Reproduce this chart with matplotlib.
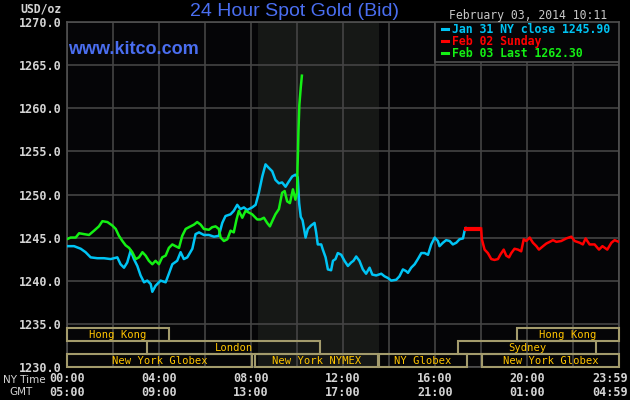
import numpy as np
import matplotlib
matplotlib.use("Agg")
import matplotlib.pyplot as plt
from matplotlib.patches import Rectangle
import matplotlib.transforms as mtransforms

# ---------------- data ----------------
jan31_hours = [0, 0.32, 0.61, 0.82, 1.04, 1.33, 1.62, 1.91, 2.2, 2.34, 2.49, 2.63, 2.78, 2.92,
               3.07, 3.21, 3.36, 3.5, 3.65, 3.72, 3.86, 4.08, 4.3, 4.44, 4.59, 4.8, 4.95, 5.09,
               5.24, 5.46, 5.6, 5.75, 5.96, 6.18, 6.4, 6.61, 6.76, 6.9, 7.12, 7.26, 7.41, 7.55,
               7.7, 7.84, 8.06, 8.21, 8.35, 8.5, 8.64, 8.78, 8.93, 9.07, 9.22, 9.36, 9.51, 9.65,
               9.8, 9.94, 10.04, 10.1, 10.17, 10.25, 10.38, 10.48, 10.62, 10.77, 10.84, 10.91,
               11.06, 11.13, 11.25, 11.35, 11.49, 11.57, 11.68, 11.78, 11.93, 12.07, 12.22,
               12.36, 12.46, 12.58, 12.72, 12.87, 13.01, 13.16, 13.28, 13.45, 13.67, 13.81,
               13.96, 14.1, 14.32, 14.46, 14.61, 14.75, 14.83, 14.97, 15.12, 15.26, 15.41,
               15.55, 15.7, 15.84, 15.99, 16.13, 16.2, 16.35, 16.49, 16.64, 16.78, 16.93,
               17.07, 17.22, 17.29, 17.36]
jan31_price = [1244.0, 1244.0, 1243.7, 1243.3, 1242.7, 1242.6, 1242.6, 1242.5, 1242.7, 1241.9,
               1241.5, 1242.1, 1243.5, 1242.5, 1241.7, 1240.6, 1239.8, 1240.0, 1239.6, 1238.7,
               1239.4, 1240.0, 1239.8, 1240.8, 1241.9, 1242.3, 1243.3, 1242.5, 1242.7, 1243.7,
               1245.4, 1245.6, 1245.3, 1245.3, 1245.1, 1245.2, 1246.7, 1247.5, 1247.7, 1248.1,
               1248.8, 1248.3, 1248.5, 1248.2, 1248.5, 1248.8, 1250.2, 1252.1, 1253.5, 1253.1,
               1252.7, 1251.7, 1251.3, 1251.4, 1250.9, 1251.5, 1252.1, 1252.3, 1252.0, 1249.0,
               1247.4, 1247.0, 1245.0, 1246.0, 1246.4, 1246.7, 1245.6, 1244.2, 1244.2, 1243.6,
               1242.7, 1241.3, 1241.2, 1242.3, 1242.5, 1243.2, 1243.0, 1242.3, 1241.7, 1242.1,
               1242.3, 1242.8, 1242.3, 1241.3, 1240.8, 1241.5, 1240.7, 1240.6, 1240.8, 1240.5,
               1240.3, 1240.0, 1240.1, 1240.5, 1241.3, 1241.1, 1240.9, 1241.5, 1241.9, 1242.5,
               1243.2, 1243.2, 1243.0, 1244.2, 1245.0, 1244.6, 1244.0, 1244.4, 1244.7, 1244.6,
               1244.2, 1244.4, 1244.8, 1244.9, 1245.8, 1246.1]

feb02_hours = [17.26, 18.01, 18.04, 18.16, 18.3, 18.45, 18.59, 18.74, 18.84, 18.99, 19.1, 19.22,
               19.32, 19.46, 19.61, 19.75, 19.86, 19.97, 20.12, 20.26, 20.41, 20.52, 20.7, 20.84,
               20.99, 21.13, 21.28, 21.49, 21.71, 21.93, 22.07, 22.29, 22.43, 22.55, 22.72,
               22.94, 23.13, 23.28, 23.49, 23.67, 23.81, 23.99]
feb02_price = [1246.05, 1246.05, 1244.8, 1243.6, 1243.2, 1242.5, 1242.4, 1242.5, 1243.0, 1243.6,
               1242.9, 1242.7, 1243.2, 1243.7, 1243.6, 1243.4, 1244.8, 1244.6, 1245.0, 1244.4,
               1244.0, 1243.6, 1244.0, 1244.3, 1244.5, 1244.7, 1244.5, 1244.6, 1244.9, 1245.1,
               1244.6, 1244.4, 1244.2, 1244.9, 1244.2, 1244.2, 1243.6, 1244.0, 1243.6, 1244.4,
               1244.7, 1244.5]

feb03_hours = [0, 0.17, 0.39, 0.54, 0.75, 0.97, 1.19, 1.40, 1.55, 1.77, 1.98, 2.13, 2.27, 2.42,
               2.56, 2.71, 2.85, 3.0, 3.14, 3.29, 3.43, 3.57, 3.72, 3.86, 4.01, 4.15, 4.3, 4.44,
               4.59, 4.73, 4.88, 5.02, 5.17, 5.31, 5.53, 5.67, 5.82, 5.96, 6.18, 6.32, 6.47,
               6.61, 6.69, 6.83, 6.98, 7.12, 7.26, 7.38, 7.48, 7.63, 7.77, 7.92, 8.06, 8.28,
               8.42, 8.57, 8.71, 8.83, 8.93, 9.07, 9.22, 9.36, 9.47, 9.58, 9.7, 9.83, 9.94,
               10.01, 10.03, 10.05, 10.07, 10.11, 10.17, 10.22]
feb03_price = [1244.8, 1245.0, 1245.0, 1245.5, 1245.4, 1245.3, 1245.8, 1246.3, 1246.9, 1246.8,
               1246.4, 1246.0, 1245.2, 1244.6, 1244.1, 1243.8, 1243.3, 1242.5, 1242.7, 1243.3,
               1242.9, 1242.3, 1241.9, 1242.3, 1241.9, 1242.7, 1242.9, 1243.8, 1244.2, 1244.0,
               1243.8, 1245.2, 1246.0, 1246.2, 1246.5, 1246.8, 1246.5, 1246.0, 1245.9, 1246.2,
               1246.3, 1246.0, 1245.0, 1244.6, 1244.8, 1245.8, 1245.6, 1247.1, 1248.1, 1247.3,
               1248.1, 1247.9, 1247.7, 1247.1, 1247.1, 1247.3, 1246.7, 1246.3, 1246.9, 1247.7,
               1248.3, 1250.2, 1250.4, 1249.2, 1249.0, 1250.6, 1249.4, 1250.2, 1253.2, 1255.0,
               1257.3, 1260.4, 1262.4, 1263.8]

legend_labels = ["Jan 31 NY close 1245.90", "Feb 02 Sunday", "Feb 03 Last 1262.30"]

yticks = [1230, 1235, 1240, 1245, 1250, 1255, 1260, 1265, 1270]
ny_time_labels = ["00:00", "04:00", "08:00", "12:00", "16:00", "20:00", "23:59"]
gmt_labels = ["05:00", "09:00", "13:00", "17:00", "21:00", "01:00", "04:59"]
time_label_hours = [0, 4, 8, 12, 16, 20, 23.6]

session_names = ["Hong Kong", "London", "New York Globex", "New York NYMEX", "NY Globex",
                 "Sydney", "Hong Kong", "New York Globex"]
session_start = [0, 3.5, 0, 8.2, 13.55, 17.0, 19.57, 18.06]
session_end = [4.46, 11.0, 8.05, 13.52, 17.38, 23.0, 24.0, 24.0]
session_row = [0, 1, 2, 2, 2, 1, 0, 2]

nymex_span = (8.33, 13.58)

# ---------------- style ----------------
BG = "#050507"
GRID = "#444444"
CYAN = "#00C4F4"
RED = "#FF0000"
GREEN = "#14F014"
BLUE = "#4A6EF0"
TXT = "#D4D4D4"
GOLD = "#FFC400"
BOX = "#A39B6C"
MONO = "DejaVu Sans Mono"

W, H = 630, 400
fig = plt.figure(figsize=(W / 100, H / 100), dpi=100, facecolor="#000000")
x0, x1, ytop, ybot = 66.7, 619.0, 22.3, 366.7
ax = fig.add_axes([x0 / W, 1 - ybot / H, (x1 - x0) / W, (ybot - ytop) / H])
ax.set_facecolor(BG)
ax.set_xlim(0, 24)
ax.set_ylim(1230, 1270)
ax.set_xticks(np.arange(0, 25, 2))
ax.set_yticks(yticks)
ax.set_yticklabels([f"{v:.1f}" for v in yticks], family=MONO, fontweight="bold",
                   fontsize=8.5, color=TXT)
ax.tick_params(length=0, labelbottom=False, pad=4)
ax.grid(True, color=GRID, lw=1.2)
for s in ax.spines.values():
    s.set_color("#505050")
    s.set_linewidth(1.2)

ax.axvspan(*nymex_span, color="#161816", zorder=0.5, lw=0)

ax.plot(jan31_hours, jan31_price, color=CYAN, lw=1.8, zorder=3)
ax.plot(feb02_hours[:2], feb02_price[:2], color=RED, lw=3.0, zorder=3, solid_capstyle="butt")
ax.plot(feb02_hours[1:], feb02_price[1:], color=RED, lw=1.8, zorder=3)
ax.plot(feb03_hours, feb03_price, color=GREEN, lw=1.8, zorder=3.1)

# sessions
row_bounds = [(1233.0, 1234.45), (1231.5, 1233.0), (1230.0, 1231.5)]
for name, a, b, r in zip(session_names, session_start, session_end, session_row):
    lo, hi = row_bounds[r]
    ax.add_patch(Rectangle((a, lo), b - a, hi - lo, fill=False, edgecolor=BOX, lw=1.5,
                           zorder=4, clip_on=False))
    ax.text((a + b) / 2, (lo + hi) / 2 - 0.05, name, ha="center", va="center",
            family=MONO, fontsize=7.6, color=GOLD, zorder=5)

# legend box
lx0 = 435.3
lyb = 61.7
ax.add_patch(Rectangle(((lx0 - x0) / (x1 - x0), (ybot - lyb) / (ybot - ytop)),
                       (x1 - lx0) / (x1 - x0), (lyb - ytop) / (ybot - ytop),
                       transform=ax.transAxes, facecolor=BG, edgecolor="#505050",
                       lw=1.2, zorder=6))
for lab, col, yy in zip(legend_labels, [CYAN, RED, GREEN], [29.3, 41.3, 53.3]):
    fig.text(442 / W, 1 - yy / H, "-", visible=False)
    fig.add_artist(plt.Line2D([442 / W, 448 / W], [1 - yy / H, 1 - yy / H],
                              color=col, lw=2.2, transform=fig.transFigure, zorder=7))
    fig.text(451.5 / W, 1 - yy / H, lab, ha="left", va="center", family=MONO,
             fontweight="bold", fontsize=8.3, color=col, zorder=7)

# header texts
fig.text(295 / W, 1 - 11 / H, "24 Hour Spot Gold (Bid)", ha="center", va="center",
         family="Liberation Sans", fontsize=14, color=BLUE)
fig.text(68 / W, 1 - 49 / H, "www.kitco.com", ha="left", va="center",
         family="Liberation Sans", fontweight="bold", fontsize=13, color=BLUE)
fig.text(607.5 / W, 1 - 15 / H, "February 03, 2014 10:11", ha="right", va="center",
         family=MONO, fontsize=8.3, color="#C8C8C8")
fig.text(62 / W, 1 - 8.5 / H, "USD/oz", ha="right", va="center", family=MONO,
         fontweight="bold", fontsize=8.3, color=TXT)

# bottom time labels
trans = mtransforms.blended_transform_factory(ax.transData, fig.transFigure)
for hh, ny, gmt in zip(time_label_hours, ny_time_labels, gmt_labels):
    fig.text(hh, 1 - 378.5 / H, ny, ha="center", va="center", family=MONO,
             fontweight="bold", fontsize=8.5, color=TXT, transform=trans)
    fig.text(hh, 1 - 393 / H, gmt, ha="center", va="center", family=MONO,
             fontweight="bold", fontsize=8.5, color=TXT, transform=trans)
fig.text(24 / W, 1 - 380 / H, "NY Time", ha="center", va="center", family="DejaVu Sans",
         fontsize=7.5, color=TXT)
fig.text(20.5 / W, 1 - 392 / H, "GMT", ha="center", va="center", family="DejaVu Sans",
         fontsize=7.5, color=TXT)

fig.savefig("out.png", dpi=100, facecolor="#000000")
